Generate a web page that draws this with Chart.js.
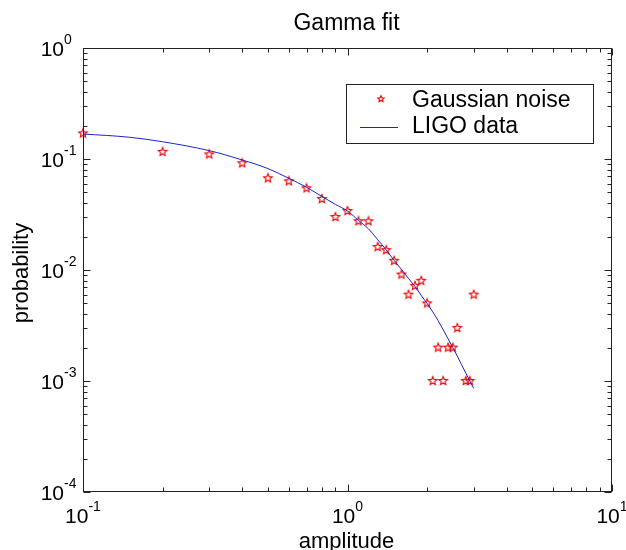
<!DOCTYPE html>
<html>
<head>
<meta charset="utf-8">
<script src="https://cdn.jsdelivr.net/npm/chart.js@4"></script>
<style>
  html, body { margin: 0; padding: 0; background: #fff; }
  canvas { display: block; }
</style>
</head>
<body>
<canvas id="gammaChart" width="626" height="550"></canvas>
<script>
// histogram points (stars)
const noiseX = [0.1, 0.2, 0.3, 0.4, 0.5, 0.6, 0.7, 0.8, 0.9, 1.0,
                1.1, 1.2, 1.3, 1.4, 1.5, 1.6, 1.7, 1.8, 1.9, 2.0,
                2.1, 2.2, 2.3, 2.4, 2.5, 2.6, 2.8, 2.9, 3.0];
const noiseY = [0.17, 0.116, 0.11, 0.0915, 0.067, 0.063, 0.0545, 0.0436, 0.030, 0.034,
                0.0275, 0.0275, 0.0161, 0.0151, 0.0121, 0.0091, 0.006, 0.0072, 0.008, 0.005,
                0.001, 0.002, 0.001, 0.002, 0.002, 0.003, 0.001, 0.001, 0.006];

// fitted curve
const fitX = [0.1, 0.15, 0.2, 0.3, 0.4, 0.5, 0.6, 0.7, 0.8, 0.9, 1.0,
              1.1, 1.2, 1.3, 1.4, 1.5, 1.6, 1.7, 1.8, 1.9, 2.0,
              2.1, 2.2, 2.3, 2.4, 2.5, 2.6, 2.7, 2.8, 2.9, 3.0];
const fitY = [0.168, 0.157, 0.143, 0.119, 0.098, 0.082, 0.067, 0.0556, 0.046, 0.039, 0.034,
              0.028, 0.0235, 0.0188, 0.0152, 0.0122, 0.0101, 0.0084, 0.0071, 0.0059, 0.005,
              0.0042, 0.0035, 0.0029, 0.0024, 0.002, 0.00168, 0.0014, 0.00118, 0.001, 0.00086];

const xTickValues = [0.1, 1, 10];
const xTickExp = ['-1', '0', '1'];
const yTickValues = [1e-4, 1e-3, 1e-2, 1e-1, 1];
const yTickExp = ['-4', '-3', '-2', '-1', '0'];

const titleText = 'Gamma fit';
const xLabel = 'amplitude';
const yLabel = 'probability';
const seriesNames = ['Gaussian noise', 'LIGO data'];

const FONT = '"Liberation Sans", Arial, sans-serif';
const starColor = '#f00000';
const lineColor = '#2020c8';
const axisColor = '#222';

function makeStar(outer, inner) {
    const s = Math.ceil(outer * 2 + 3);
    const c = document.createElement('canvas');
    c.width = s; c.height = s;
    const g = c.getContext('2d');
    g.strokeStyle = starColor;
    g.lineWidth = 1.1;
    g.beginPath();
    for (let i = 0; i < 10; i++) {
        const r = i % 2 ? inner : outer;
        const ang = -Math.PI / 2 + i * Math.PI / 5;
        g.lineTo(s / 2 + r * Math.cos(ang), s / 2 + r * Math.sin(ang));
    }
    g.closePath();
    g.stroke();
    return c;
}
const starImg = makeStar(4.5, 2.0);
const legendStar = makeStar(3.3, 1.5);

function logTicks(min, max) {
    const out = [];
    for (let d = Math.round(Math.log10(min)); d < Math.round(Math.log10(max)); d++) {
        for (let m = 1; m <= 9; m++) out.push({ v: m * Math.pow(10, d), major: m === 1 });
    }
    out.push({ v: max, major: true });
    return out;
}

// matlab-ish box, inward ticks, labels and legend
const matlabFrame = {
    id: 'matlabFrame',
    afterDraw(chart) {
        const { ctx, chartArea: a, scales: { x, y } } = chart;
        const L = Math.round(a.left) + 0.5, R = Math.round(a.right) - 0.5;
        const T = Math.round(a.top) + 0.5, B = Math.round(a.bottom) - 0.5;
        ctx.save();
        ctx.strokeStyle = axisColor;
        ctx.lineWidth = 1;
        ctx.strokeRect(L, T, R - L, B - T);

        ctx.beginPath();
        logTicks(x.min, x.max).forEach(t => {
            const px = Math.round(x.getPixelForValue(t.v)) + 0.5;
            const len = t.major ? 7 : 4;
            ctx.moveTo(px, B); ctx.lineTo(px, B - len);
            ctx.moveTo(px, T); ctx.lineTo(px, T + len);
        });
        logTicks(y.min, y.max).forEach(t => {
            const py = Math.round(y.getPixelForValue(t.v)) + 0.5;
            const len = t.major ? 7 : 4;
            ctx.moveTo(L, py); ctx.lineTo(L + len, py);
            ctx.moveTo(R, py); ctx.lineTo(R - len, py);
        });
        ctx.stroke();

        ctx.fillStyle = '#000';
        ctx.textBaseline = 'alphabetic';
        const big = '21px ' + FONT, small = '14px ' + FONT;

        // x tick labels
        xTickValues.forEach((v, i) => {
            const px = x.getPixelForValue(v);
            ctx.font = big; const w1 = ctx.measureText('10').width;
            ctx.font = small; const w2 = ctx.measureText(xTickExp[i]).width;
            const s = px - (w1 + w2) / 2;
            ctx.textAlign = 'left';
            ctx.font = big; ctx.fillText('10', s, 523);
            ctx.font = small; ctx.fillText(xTickExp[i], s + w1, 511);
        });
        // y tick labels
        yTickValues.forEach((v, i) => {
            const py = y.getPixelForValue(v);
            ctx.font = big; ctx.textAlign = 'right';
            ctx.fillText('10', 64, py + 7.5);
            ctx.font = small; ctx.textAlign = 'left';
            ctx.fillText(yTickExp[i], 64, py - 4.5);
        });

        // title + axis titles
        ctx.font = '23px ' + FONT;
        ctx.textAlign = 'center';
        const cx = (a.left + a.right) / 2;
        ctx.fillText(titleText, cx - 1, 30);
        ctx.font = '22px ' + FONT;
        ctx.fillText(xLabel, cx - 1, 548);
        ctx.save();
        ctx.translate(28, (a.top + a.bottom) / 2 + 3);
        ctx.rotate(-Math.PI / 2);
        ctx.fillText(yLabel, 0, 0);
        ctx.restore();

        // legend
        ctx.fillStyle = '#fff';
        ctx.fillRect(346, 84, 247, 59);
        ctx.strokeStyle = axisColor;
        ctx.strokeRect(346.5, 84.5, 247, 59);
        ctx.drawImage(legendStar, 381 - legendStar.width / 2, 99 - legendStar.height / 2);
        ctx.strokeStyle = lineColor;
        ctx.beginPath();
        ctx.moveTo(360, 127.5); ctx.lineTo(398, 127.5);
        ctx.stroke();
        ctx.fillStyle = '#000';
        ctx.font = '23px ' + FONT;
        ctx.textAlign = 'left';
        ctx.fillText(seriesNames[0], 412, 107);
        ctx.fillText(seriesNames[1], 412, 133);
        ctx.restore();
    }
};

const ctx = document.getElementById('gammaChart').getContext('2d');
const gammaChart = new Chart(ctx, {
    type: 'scatter',
    data: {
        datasets: [{
            label: seriesNames[0],
            data: noiseX.map((v, i) => ({ x: v, y: noiseY[i] })),
            pointStyle: starImg,
            pointRadius: 4,
            showLine: false,
            clip: false,
            order: 1
        }, {
            label: seriesNames[1],
            data: fitX.map((v, i) => ({ x: v, y: fitY[i] })),
            showLine: true,
            borderColor: lineColor,
            borderWidth: 1,
            pointRadius: 0,
            cubicInterpolationMode: 'monotone',
            clip: false,
            order: 0
        }]
    },
    options: {
        responsive: false,
        animation: false,
        devicePixelRatio: 1,
        layout: { padding: { left: 83, right: 14, top: 48, bottom: 58 } },
        plugins: {
            legend: { display: false },
            tooltip: { enabled: false }
        },
        scales: {
            x: { type: 'logarithmic', min: 0.1, max: 10, display: false },
            y: { type: 'logarithmic', min: 1e-4, max: 1, display: false }
        }
    },
    plugins: [matlabFrame]
});
</script>
</body>
</html>
